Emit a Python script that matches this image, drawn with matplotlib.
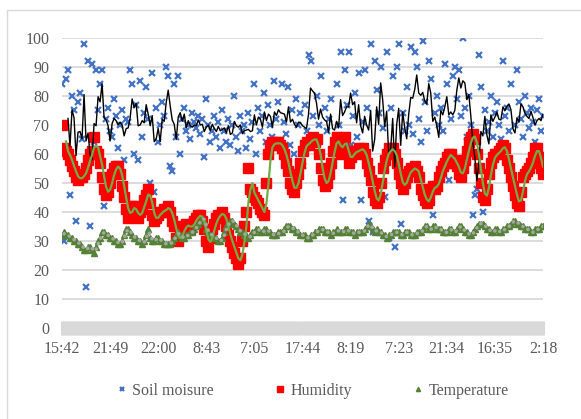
import matplotlib
matplotlib.use("Agg")
import matplotlib.pyplot as plt
from matplotlib.patches import Rectangle
import numpy as np
import pandas as pd

# readings, one per sample (x labels every 24th sample)
tick_labels = ["15:42", "21:49", "22:00", "8:43", "7:05", "17:44",
               "8:19", "7:23", "21:34", "16:35", "2:18"]

soil_moisture = [
    84, 30, 86, 89, 46, 80, 75, 37, 78, 81,
    65, 98, 14, 92, 35, 91, 64, 89, 75, 84,
    89, 42, 72, 76, 68, 66, 79, 73, 62, 70,
    75, 58, 72, 71, 89, 84, 60, 77, 58, 85,
    66, 74, 83, 72, 50, 88, 47, 76, 64, 70,
    78, 73, 90, 87, 56, 54, 84, 66, 87, 60,
    72, 76, 68, 70, 65, 74, 71, 69, 73, 67,
    72, 59, 79, 70, 64, 68, 73, 66, 71, 62,
    75, 68, 64, 72, 63, 70, 80, 66, 61, 73,
    68, 70, 62, 74, 65, 71, 84, 60, 76, 68,
    73, 81, 64, 77, 70, 66, 85, 72, 78, 62,
    84, 71, 67, 83, 63, 75, 60, 79, 70, 74,
    56, 77, 68, 94, 92, 73, 65, 80, 70, 87,
    54, 76, 68, 72, 79, 56, 66, 84, 70, 95,
    44, 89, 77, 95, 63, 73, 81, 66, 88, 44,
    71, 89, 76, 37, 98, 33, 92, 82, 74, 90,
    69, 45, 95, 31, 76, 87, 28, 90, 98, 36,
    74, 68, 83, 70, 97, 67, 95, 90, 72, 64,
    99, 78, 68, 92, 86, 39, 74, 80, 70, 76,
    68, 91, 84, 51, 72, 87, 90, 79, 89, 73,
    100, 76, 66, 80, 70, 39, 46, 48, 94, 83,
    40, 75, 68, 71, 80, 66, 74, 78, 70, 65,
    92, 73, 76, 68, 84, 47, 70, 89, 78, 72,
    66, 80, 74, 69, 76, 71, 64, 75, 79, 68,
    73,
]

humidity = [
    70, 62, 61, 60, 58, 56, 54, 52, 51, 52,
    52, 53, 55, 58, 60, 61, 66, 61, 60, 57,
    52, 48, 46, 47, 50, 53, 55, 56, 56, 53,
    49, 45, 41, 38, 40, 42, 42, 39, 38, 40,
    41, 44, 46, 48, 43, 39, 37, 38, 39, 40,
    40, 41, 41, 42, 40, 37, 35, 31, 30, 32,
    33, 35, 36, 35, 34, 36, 37, 38, 39, 39,
    37, 34, 30, 28, 31, 34, 36, 38, 39, 39,
    40, 38, 35, 32, 30, 28, 26, 24, 22, 24,
    30, 35, 40, 55, 48, 47, 45, 44, 43, 41,
    40, 39, 50, 60, 63, 64, 63, 64, 64, 63,
    62, 60, 57, 54, 50, 48, 47, 50, 53, 57,
    61, 63, 64, 63, 65, 66, 64, 65, 60, 55,
    51, 49, 50, 53, 57, 61, 64, 66, 63, 60,
    64, 66, 61, 57, 59, 61, 60, 61, 62, 61,
    62, 60, 57, 54, 51, 47, 44, 43, 45, 50,
    55, 58, 60, 62, 61, 62, 60, 57, 53, 50,
    48, 50, 52, 54, 55, 54, 56, 54, 52, 48,
    46, 44, 43, 44, 48, 49, 48, 49, 52, 54,
    56, 57, 59, 60, 60, 57, 58, 56, 53, 52,
    55, 58, 61, 64, 66, 67, 65, 60, 55, 50,
    45, 44, 48, 53, 57, 59, 60, 60, 61, 62,
    63, 62, 58, 55, 52, 49, 46, 43, 42, 47,
    52, 53, 54, 55, 57, 59, 62, 62, 59, 55,
    53,
]

temperature = [
    32, 33, 32, 32, 31, 31, 30, 30, 29, 29,
    28, 27, 27, 28, 28, 27, 26, 28, 30, 31,
    33, 33, 32, 32, 31, 31, 30, 30, 29, 29,
    30, 32, 34, 34, 33, 32, 31, 31, 30, 30,
    29, 30, 32, 34, 31, 30, 30, 31, 31, 30,
    30, 29, 29, 29, 29, 30, 31, 32, 33, 32,
    31, 31, 32, 32, 33, 33, 34, 35, 36, 37,
    38, 37, 34, 33, 32, 32, 31, 31, 30, 30,
    31, 33, 35, 36, 37, 37, 36, 35, 34, 33,
    33, 32, 32, 31, 32, 33, 33, 34, 34, 33,
    33, 34, 34, 33, 33, 32, 32, 32, 33, 33,
    33, 34, 35, 35, 35, 34, 34, 33, 33, 32,
    32, 32, 31, 31, 32, 32, 33, 33, 34, 34,
    34, 33, 33, 33, 32, 33, 33, 34, 33, 33,
    33, 34, 34, 33, 33, 33, 32, 33, 33, 33,
    33, 34, 35, 36, 35, 34, 33, 34, 33, 33,
    32, 32, 31, 32, 32, 33, 33, 33, 33, 32,
    32, 33, 33, 33, 32, 32, 32, 33, 33, 33,
    34, 35, 35, 34, 34, 35, 35, 34, 34, 34,
    33, 33, 33, 34, 34, 33, 33, 34, 35, 35,
    34, 33, 33, 32, 32, 33, 34, 35, 36, 36,
    36, 35, 34, 34, 33, 33, 34, 34, 33, 33,
    34, 34, 35, 35, 36, 37, 37, 36, 36, 35,
    35, 34, 34, 34, 33, 33, 34, 34, 34, 35,
    35,
]

plt.rcParams["font.family"] = ["Liberation Serif", "DejaVu Serif"]
plt.rcParams["font.size"] = 11.5

df = pd.DataFrame({"soil": soil_moisture, "hum": humidity, "temp": temperature})
x = np.arange(len(df))

fig = plt.figure(figsize=(5.81, 4.19), dpi=100)
ax = fig.add_axes([62 / 581, 1 - 328 / 419, 481 / 581, 290 / 419])

# chart area border (Excel style)
fig.patches.append(Rectangle((7 / 581, -0.1), 1.2, 1 - 10 / 419 + 0.1,
                             transform=fig.transFigure, fill=False,
                             edgecolor="#d9d9d9", linewidth=1))

ax.plot(x, df["soil"], linestyle="none", marker="x", color="#4472C4",
        markersize=4.5, markeredgewidth=1.6, zorder=2, label="Soil moisure")
ax.plot(x, df["hum"], linestyle="none", marker="s", color="#FF0000",
        markersize=6.5, zorder=3, label="Humidity")
ax.plot(x, df["temp"], linestyle="none", marker="^", color="#548235",
        markersize=4, zorder=4, label="Temperature")

# moving-average trendlines
ax.plot(x, df["soil"].rolling(4).mean(), color="black", linewidth=1, zorder=5)
ax.plot(x, df["hum"].rolling(3).mean(), color="#70AD47", linewidth=1.6, zorder=5)
ax.plot(x, df["temp"].rolling(2).mean(), color="#A5A5A5", linewidth=2.6,
        linestyle=(0, (0.05, 1.6)), dash_capstyle="round", zorder=5)

ax.set_xlim(0, len(df) - 1)
ax.set_ylim(0, 100)
ax.set_yticks(range(0, 101, 10))
ax.set_xticks(np.arange(0, len(df), 24))
ax.set_xticklabels(tick_labels)
ax.set_xticks(x, minor=True)

ax.grid(axis="y", color="#d9d9d9", linewidth=1.3)
ax.set_axisbelow(True)
for s in ax.spines.values():
    s.set_visible(False)

ax.tick_params(axis="y", length=0, pad=9, colors="#595959", labelsize=11.5)
ax.tick_params(axis="x", which="both", direction="inout", length=10,
               width=2.2, color="#d9d9d9", pad=4, labelcolor="#595959",
               labelsize=11.5)

leg = fig.legend(loc="center", bbox_to_anchor=(0.536, 0.067), ncol=3,
                 frameon=False, fontsize=11.5, columnspacing=3.7,
                 handlelength=0.9, handletextpad=0.2, markerscale=0.75)
for t in leg.get_texts():
    t.set_color("#595959")

fig.savefig("out.png", dpi=100)
